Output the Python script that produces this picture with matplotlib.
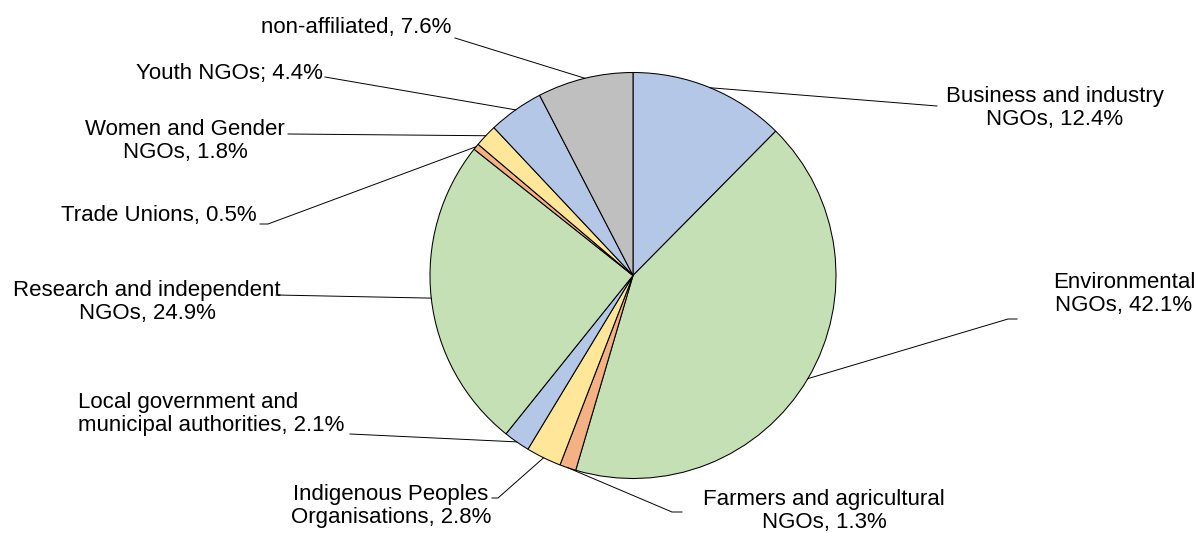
import matplotlib
matplotlib.use('Agg')
import matplotlib.pyplot as plt
import numpy as np

plt.rcParams['font.family'] = ['Liberation Sans', 'DejaVu Sans']

labels = ["Business and industry\nNGOs, 12.4%",
          "Environmental\nNGOs, 42.1%",
          "Farmers and agricultural\nNGOs, 1.3%",
          "Indigenous Peoples\nOrganisations, 2.8%",
          "Local government and\nmunicipal authorities, 2.1%",
          "Research and independent\nNGOs, 24.9%",
          "Trade Unions, 0.5%",
          "Women and Gender\nNGOs, 1.8%",
          "Youth NGOs; 4.4%",
          "non-affiliated, 7.6%"]
shares = [12.4, 42.1, 1.3, 2.8, 2.1, 24.9, 0.5, 1.8, 4.4, 7.6]
colors = ['#B4C7E7', '#C5E0B4', '#F4B183', '#FFE699', '#B4C7E7',
          '#C5E0B4', '#F4B183', '#FFE699', '#B4C7E7', '#BFBFBF']

W, H = 1196, 533
cx, cy, R = 633, H - 275.5, 203

# label layout in pixel coords (y down): text x, text y, ha, multialign, leader points from text side
layout = [
    (1055, 108, 'center', 'center', [(937, 106)]),
    (1124, 294, 'center', 'center', [(1017, 319), (1008, 319)]),
    (824, 511, 'center', 'center', [(682, 512), (672, 512)]),
    (391, 506, 'center', 'center', [(492, 498), (498, 498)]),
    (78, 414, 'left', 'left', [(350, 434)]),
    (147, 302, 'center', 'center', [(276, 295)]),
    (257, 215, 'right', 'right', [(260, 224), (268, 224)]),
    (185, 141, 'center', 'center', [(288, 134)]),
    (323, 73, 'right', 'right', [(325, 77)]),
    (451, 27, 'right', 'right', [(455, 38)]),
]

fig = plt.figure(figsize=(W / 100, H / 100), dpi=100)
ax = fig.add_axes([0, 0, 1, 1])
ax.pie(shares, colors=colors, startangle=90, counterclock=False,
       center=(cx, cy), radius=R,
       wedgeprops=dict(edgecolor='black', linewidth=0.75))
ax.set_xlim(0, W)
ax.set_ylim(0, H)
ax.set_aspect('equal')
ax.axis('off')

frac = np.array(shares) / sum(shares)
mids = np.cumsum(frac) - frac / 2
for lab, m, (tx, ty, ha, ma, pts) in zip(labels, mids, layout):
    ang = np.deg2rad(90 - 360 * m)
    ax_ = cx + R * np.cos(ang)
    ay_ = cy + R * np.sin(ang)
    xs = [p[0] for p in pts] + [ax_]
    ys = [H - p[1] for p in pts] + [ay_]
    ax.plot(xs, ys, color='black', lw=0.7)
    ax.text(tx, H - ty, lab, ha=ha, va='center', multialignment=ma,
            fontsize=16, linespacing=1.17, color='black')

fig.savefig('out.png', dpi=100)
